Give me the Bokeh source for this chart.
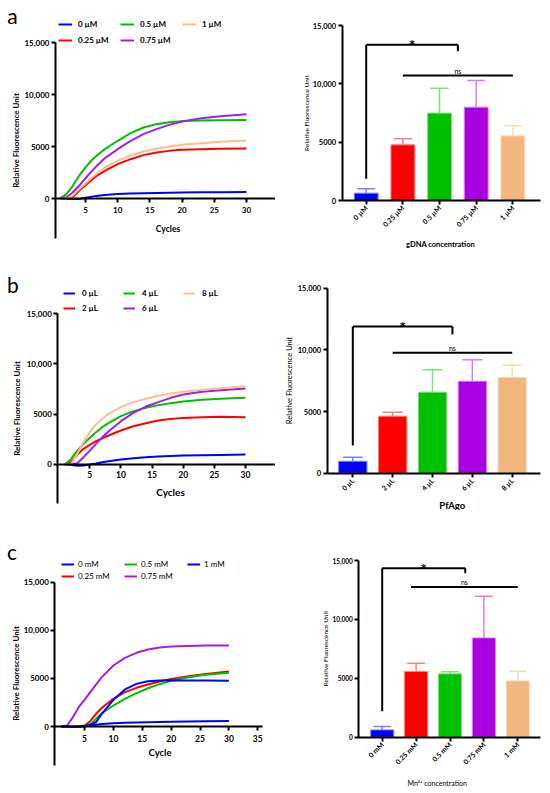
import math
from bokeh.plotting import figure
from bokeh.models import Range1d, FixedTicker, Legend, LegendItem
from bokeh.layouts import column, row
from bokeh.embed import file_html
from bokeh.resources import INLINE
from bokeh.core.properties import value

# ---------------- data ----------------
cycles = [1, 2, 3, 4, 5, 6, 7, 8, 10, 12, 14, 16, 18, 20, 23, 26, 30]

a_labels = ["0 µM", "0.25 µM", "0.5 µM", "0.75 µM", "1 µM"]
a_curve_0 = [0, -20, -60, -40, 80, 180, 270, 340, 430, 480, 510, 540, 560, 580, 590, 600, 620]
a_curve_025 = [0, 0, 100, 740, 1280, 1800, 2280, 2660, 3300, 3780, 4170, 4420, 4580, 4680, 4740, 4780, 4810]
a_curve_05 = [0, 400, 1200, 2180, 3000, 3700, 4260, 4750, 5550, 6280, 6830, 7150, 7340, 7440, 7500, 7530, 7560]
a_curve_075 = [0, 100, 580, 1220, 1950, 2660, 3300, 3880, 4740, 5540, 6190, 6670, 7080, 7400, 7720, 7920, 8110]
a_curve_1 = [0, 0, 250, 900, 1440, 2020, 2500, 2980, 3620, 4130, 4520, 4780, 5000, 5160, 5320, 5450, 5580]
a_bar_mean = [630, 4770, 7490, 8000, 5540]
a_bar_sd = [370, 520, 2140, 2290, 860]
a_star = [0, 2.5, 13340, 1860, 12800]
a_ns = [1, 4, 10710]
a_xlabel = "gDNA concentration"

b_labels = ["0 µL", "2 µL", "4 µL", "6 µL", "8 µL"]
b_curve_0 = [0, -80, -150, -120, -20, 60, 200, 300, 460, 600, 700, 780, 830, 870, 900, 930, 960]
b_curve_2 = [0, 200, 960, 1530, 1930, 2300, 2590, 2860, 3360, 3790, 4090, 4360, 4520, 4620, 4690, 4720, 4690]
b_curve_4 = [0, 530, 1360, 2030, 2630, 3190, 3690, 4090, 4790, 5290, 5620, 5890, 6090, 6250, 6420, 6520, 6620]
b_curve_6 = [0, -30, 100, 700, 1360, 2030, 2690, 3260, 4290, 5120, 5750, 6190, 6620, 6950, 7220, 7380, 7550]
b_curve_8 = [0, 0, 1030, 2200, 3190, 3960, 4520, 5020, 5690, 6190, 6520, 6820, 7050, 7220, 7420, 7580, 7780]
b_bar_mean = [970, 4620, 6570, 7460, 7760]
b_bar_sd = [330, 330, 1810, 1730, 1000]
b_star = [0, 2.5, 11890, 2240, 11240]
b_ns = [1, 4, 9760]
b_xlabel = "PfAgo"

c_labels = ["0 mM", "0.25 mM", "0.5 mM", "0.75 mM", "1 mM"]
c_curve_0 = [0, 0, -40, -20, 30, 100, 180, 250, 330, 380, 420, 450, 480, 500, 520, 540, 560]
c_curve_025 = [0, 0, -30, 20, 100, 550, 1320, 1940, 2880, 3570, 4020, 4360, 4680, 4950, 5230, 5470, 5720]
c_curve_05 = [0, 0, -20, 0, 60, 200, 800, 1390, 2180, 2880, 3460, 3980, 4400, 4750, 5130, 5370, 5580]
c_curve_075 = [0, 100, 970, 2010, 2770, 3570, 4360, 5130, 6340, 7140, 7660, 8000, 8210, 8310, 8380, 8420, 8420]
c_curve_1 = [0, 0, -30, -20, 50, 200, 450, 1320, 2770, 3850, 4430, 4710, 4780, 4810, 4780, 4780, 4750]
c_bar_mean = [620, 5580, 5380, 8430, 4780]
c_bar_sd = [290, 700, 170, 3540, 820]
c_star = [0, 2.45, 14350, 2210, 13920]
c_ns = [0.85, 4, 12740]
c_xlabel = "Mn²⁺ concentration"

y_ticks = [0, 5000, 10000, 15000]
y_tick_labels = ["0", "5000", "10,000", "15,000"]
y_title = "Relative Fluorescence Unit"

# ---------------- styles ----------------
FONT = "Lato"
line_colors = ["#0000FF", "#FF0000", "#00C000", "#A020E8", "#FABF8C"]
c_line_colors = ["#0000FF", "#FF0000", "#00C000", "#A020E8", "#0000FF"]
bar_colors = ["#0000FF", "#FF0000", "#00C000", "#A800E0", "#F2B77E"]
light_colors = ["#8080FF", "#FF8080", "#80E080", "#D680F0", "#F9DABC"]


def px2v(px, cal):
    p0, v0, p1, v1 = cal
    return v0 + (px - p0) * (v1 - v0) / (p1 - p0)


def base_fig(P):
    ox, oy, W, H = P["fig"]
    xr = (px2v(ox, P["xcal"]), px2v(ox + W, P["xcal"]))
    yr = (px2v(oy + H, P["ycal"]), px2v(oy, P["ycal"]))
    p = figure(width=W, height=H, x_range=Range1d(*xr), y_range=Range1d(*yr),
               output_backend="svg", toolbar_location=None, title_location=None,
               min_border=0)
    p.xgrid.visible = False
    p.ygrid.visible = False
    p.outline_line_color = None
    p.background_fill_color = "white"
    p.border_fill_color = "white"
    for ax in p.axis:
        ax.axis_line_width = 2
        ax.axis_line_color = "black"
        ax.major_tick_line_width = 2
        ax.major_tick_out = 4
        ax.major_tick_in = 0
        ax.minor_tick_line_color = None
        ax.major_label_text_font = FONT
        ax.major_label_text_font_style = "bold"
        ax.major_label_text_color = "black"
    # axes cross where the reference draws them
    p.yaxis.fixed_location = px2v(P["yaxis_px"], P["xcal"])
    p.xaxis.fixed_location = 0
    p.yaxis.ticker = FixedTicker(ticks=y_ticks)
    p.yaxis.major_label_overrides = dict(zip(y_ticks, y_tick_labels))
    p.yaxis.major_label_standoff = 2
    p.xaxis.bounds = (px2v(P["yaxis_px"], P["xcal"]), px2v(P["xend_px"], P["xcal"]))
    return p


def add_text(p, P, px, py, txt, size, style="bold", angle=0.0, font=FONT):
    p.text(x=[px2v(px, P["xcal"])], y=[px2v(py, P["ycal"])], text=[txt], angle=angle,
           text_align="center", text_baseline="middle", text_font=value(font),
           text_font_size=size, text_font_style=style, text_color="black")


def line_panel(P, curves, labels, colors):
    ox, oy, W, H = P["fig"]
    p = base_fig(P)
    p.yaxis.bounds = (px2v(P["ybot_px"], P["ycal"]), 15000)
    p.yaxis.major_label_text_font_size = "8px"
    p.xaxis.ticker = FixedTicker(ticks=P["xticks"])
    p.xaxis.major_label_text_font_size = P["tick_font"]
    p.xaxis.major_label_standoff = P["xtick_standoff"]

    items = []
    for vals, lab, col in zip(curves, labels, colors):
        r = p.line(cycles, vals, line_color=col, line_width=2)
        items.append(LegendItem(label=lab, renderers=[r]))
    L = P["leg"]
    leg = Legend(items=items, nrows=2, orientation="vertical",
                 location=(L["x"] - ox, oy + H - L["bottom"]),
                 glyph_width=L["gw"], glyph_height=L["rh"], label_height=L["rh"],
                 label_standoff=L["st"], label_width=L["lw"], spacing=L["sp"],
                 padding=0, margin=0, border_line_alpha=0, background_fill_alpha=0,
                 label_text_font=FONT, label_text_font_size=L["font"],
                 label_text_font_style=L["style"], label_text_color="black")
    p.add_layout(leg)

    add_text(p, P, *P["ylab"], y_title, "8px", angle=math.pi / 2)
    add_text(p, P, *P["xlab"], P["xlabel"], P["xlabel_font"])
    add_text(p, P, *P["letter"], P["letter_text"], "21px", style="normal")
    return p


def bar_panel(P, labels, mean, sd, star, ns, xlabel):
    p = base_fig(P)
    p.yaxis.bounds = (0, 15000)
    p.yaxis.major_label_text_font_size = P["ytick_font"]
    idx = list(range(len(labels)))
    p.xaxis.ticker = FixedTicker(ticks=idx)
    p.xaxis.major_label_overrides = dict(zip(idx, labels))
    p.xaxis.major_label_orientation = math.pi / 4
    p.xaxis.major_label_text_font_size = "7px"
    p.xaxis.major_label_standoff = 2

    tops = [m + s for m, s in zip(mean, sd)]
    cw = P["cap"]
    p.segment(x0=idx, y0=mean, x1=idx, y1=tops, line_color=light_colors, line_width=1.5)
    p.segment(x0=[i - cw for i in idx], y0=tops, x1=[i + cw for i in idx], y1=tops,
              line_color=light_colors, line_width=1.5)
    p.vbar(x=idx, top=mean, width=P["bw"], fill_color=bar_colors, line_color=light_colors,
           line_width=1)

    x0, x1, yt, yl, yrr = star
    p.segment(x0=[x0, x0, x1], y0=[yt, yt, yt], x1=[x1, x0, x1], y1=[yt, yl, yrr],
              line_color="black", line_width=2)
    p.text(x=[(x0 + x1) / 2], y=[yt], text=["*"], text_align="center",
           text_baseline="alphabetic", y_offset=0, text_font=value("DejaVu Sans"),
           text_font_size="11px", text_font_style="bold", text_color="black")
    n0, n1, ny = ns
    p.segment(x0=[n0], y0=[ny], x1=[n1], y1=[ny], line_color="black", line_width=2)
    p.text(x=[(n0 + n1) / 2], y=[ny], text=["ns"], text_align="center",
           text_baseline="alphabetic", y_offset=-5, text_font=value(FONT),
           text_font_size="7px", text_color="black")

    add_text(p, P, *P["ylab"], y_title, P["ylabel_font"], style="normal", angle=math.pi / 2)
    add_text(p, P, *P["xlab"], xlabel, P["xlabel_font"], style=P["xlabel_style"])
    return p


LA = dict(fig=(0, 0, 275, 250), xcal=(85, 5, 246, 30), ycal=(198, 0, 42, 15000),
          yaxis_px=55, ybot_px=238, xend_px=275, xticks=[5, 10, 15, 20, 25, 30],
          tick_font="8px", xtick_standoff=4, xlabel="Cycles", xlabel_font="8.5px",
          xlab=(167.5, 228), ylab=(15, 140),
          leg=dict(x=58, bottom=46, gw=14, rh=12, st=6, lw=38, sp=4, font="8px", style="bold"),
          letter=(12, 15), letter_text="a")
LB = dict(fig=(0, 250, 275, 260), xcal=(89.3, 5, 245, 30), ycal=(463.7, 0, 313.3, 15000),
          yaxis_px=57.3, ybot_px=503, xend_px=275, xticks=[5, 10, 15, 20, 25, 30],
          tick_font="8.5px", xtick_standoff=3, xlabel="Cycles", xlabel_font="10px",
          xlab=(170, 491), ylab=(16.7, 408),
          leg=dict(x=63, bottom=314, gw=12, rh=12, st=7, lw=38, sp=3, font="8px", style="bold"),
          letter=(12.5, 284), letter_text="b")
LC = dict(fig=(0, 510, 275, 283), xcal=(84, 5, 257.3, 35), ycal=(726, 0, 581.7, 15000),
          yaxis_px=54.3, ybot_px=765, xend_px=261.7, xticks=[5, 10, 15, 20, 25, 30, 35],
          tick_font="8.5px", xtick_standoff=4, xlabel="Cycle", xlabel_font="9.5px",
          xlab=(159.5, 752), ylab=(15, 673),
          leg=dict(x=61, bottom=581, gw=13, rh=10, st=4, lw=44, sp=2, font="8px", style="normal"),
          letter=(11.5, 551), letter_text="c")

BA = dict(fig=(275, 0, 275, 250), xcal=(365.7, 0, 402.37, 1), ycal=(200, 0, 25, 15000),
          yaxis_px=341.7, xend_px=540, bw=0.65, cap=0.245, ytick_font="7.5px",
          xlabel_font="7.5px", xlabel_style="bold", xlab=(440, 244),
          ylabel_font="6.5px", ylab=(305.5, 112.5))
BB = dict(fig=(275, 250, 275, 260), xcal=(352.3, 0, 392.15, 1), ycal=(472.7, 0, 287.7, 15000),
          yaxis_px=326.7, xend_px=540, bw=0.71, cap=0.25, ytick_font="7.5px",
          xlabel_font="9.5px", xlabel_style="bold", xlab=(451.7, 505),
          ylabel_font="7.5px", ylab=(289, 380))
BC = dict(fig=(275, 510, 275, 283), xcal=(381.7, 0, 415.6, 1), ycal=(736.7, 0, 560, 15000),
          yaxis_px=358.3, xend_px=540, bw=0.68, cap=0.26, ytick_font="6.5px",
          xlabel_font="7px", xlabel_style="normal", xlab=(436.7, 782),
          ylabel_font="6.5px", ylab=(325, 648))

pa1 = line_panel(LA, [a_curve_0, a_curve_025, a_curve_05, a_curve_075, a_curve_1], a_labels, line_colors)
pa2 = bar_panel(BA, a_labels, a_bar_mean, a_bar_sd, a_star, a_ns, a_xlabel)
pb1 = line_panel(LB, [b_curve_0, b_curve_2, b_curve_4, b_curve_6, b_curve_8], b_labels, line_colors)
pb2 = bar_panel(BB, b_labels, b_bar_mean, b_bar_sd, b_star, b_ns, b_xlabel)
pc1 = line_panel(LC, [c_curve_0, c_curve_025, c_curve_05, c_curve_075, c_curve_1], c_labels, c_line_colors)
pc2 = bar_panel(BC, c_labels, c_bar_mean, c_bar_sd, c_star, c_ns, c_xlabel)

layout = column(row(pa1, pa2), row(pb1, pb2), row(pc1, pc2))
open("out.html", "w").write(file_html(layout, INLINE))
